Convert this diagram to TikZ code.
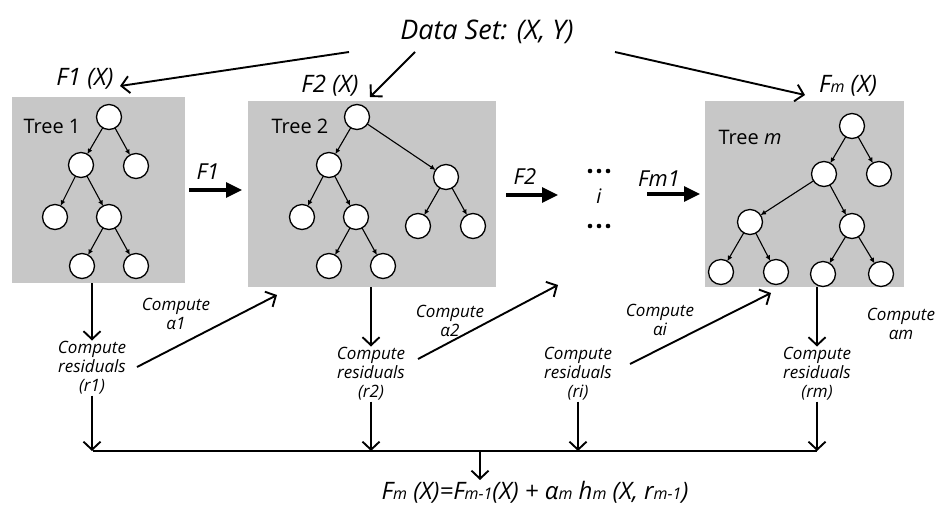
\documentclass[tikz,border=0pt]{standalone}
\usepackage{fontspec}
\setmainfont{Open Sans}
\usetikzlibrary{arrows.meta}
\definecolor{boxgray}{RGB}{199,199,199}
% reduced-size index letters that sit on the baseline
\newcommand\idx[1]{{\fontsize{16}{16}\selectfont #1}}

\begin{document}
\begin{tikzpicture}[x=1pt,y=-1pt,
  every node/.style={inner sep=1pt, outer sep=0pt},
  treebox/.style={fill=boxgray, inner sep=0pt, outer sep=0pt, anchor=north west},
  tn/.style={circle, draw=black, fill=white, minimum size=25pt, inner sep=0pt, line width=1.3pt},
  te/.style={-{Latex[length=5.5pt,width=5pt]}, line width=1.1pt},
  flow/.style={-{Straight Barb[length=8pt,width=17pt]}, line width=1.9pt},
  bigarrow/.style={-{Triangle[length=16pt,width=15pt]}, line width=3.2pt},
  flabel/.style={font=\fontsize{24}{26}\selectfont\itshape},
  dstitle/.style={font=\fontsize{27}{30}\selectfont\itshape},
  treelbl/.style={font=\fontsize{20}{22}\selectfont},
  cmptext/.style={font=\fontsize{17}{19}\selectfont\itshape, align=center},
]
\useasboundingbox (0,0) rectangle (936,507);

% ---------- tree panels ----------
\node[treebox, minimum width=173pt, minimum height=186pt] (box1) at (12,97) {};
\node[treebox, minimum width=248pt, minimum height=186pt] (box2) at (248,101) {};
\node[treebox, minimum width=199pt, minimum height=186pt] (boxm) at (705,101) {};

\node[treelbl] (lbl1) at (52,126) {Tree 1};
\node[treelbl] (lbl2) at (300,126) {Tree 2};
\node[treelbl] (lblm) at (750,137) {Tree \textit{m}};

% Tree 1
\node[tn] (a0) at (109,117) {};
\node[tn] (a1) at (81,165) {};
\node[tn] (a2) at (136,166) {};
\node[tn] (a3) at (55,217) {};
\node[tn] (a4) at (109,217) {};
\node[tn] (a5) at (82,266) {};
\node[tn] (a6) at (136,266) {};
\draw[te] (a0) -- (a1);
\draw[te] (a0) -- (a2);
\draw[te] (a1) -- (a3);
\draw[te] (a1) -- (a4);
\draw[te] (a4) -- (a5);
\draw[te] (a4) -- (a6);

% Tree 2
\node[tn] (b0) at (357,117) {};
\node[tn] (b1) at (329,165) {};
\node[tn] (b2) at (446,177) {};
\node[tn] (b3) at (302,217) {};
\node[tn] (b4) at (356,217) {};
\node[tn] (b5) at (329,266) {};
\node[tn] (b6) at (383,266) {};
\node[tn] (b7) at (418,226) {};
\node[tn] (b8) at (473,226) {};
\draw[te] (b0) -- (b1);
\draw[te] (b0) -- (b2);
\draw[te] (b1) -- (b3);
\draw[te] (b1) -- (b4);
\draw[te] (b4) -- (b5);
\draw[te] (b4) -- (b6);
\draw[te] (b2) -- (b7);
\draw[te] (b2) -- (b8);

% Tree m
\node[tn] (c0) at (852,126) {};
\node[tn] (c1) at (824,174) {};
\node[tn] (c2) at (879,174) {};
\node[tn] (c3) at (750,222) {};
\node[tn] (c4) at (852,226) {};
\node[tn] (c5) at (721,272) {};
\node[tn] (c6) at (776,272) {};
\node[tn] (c7) at (823,274) {};
\node[tn] (c8) at (881,274) {};
\draw[te] (c0) -- (c1);
\draw[te] (c0) -- (c2);
\draw[te] (c1) -- (c3);
\draw[te] (c1) -- (c4);
\draw[te] (c3) -- (c5);
\draw[te] (c3) -- (c6);
\draw[te] (c4) -- (c7);
\draw[te] (c4) -- (c8);

% ---------- data set and model outputs ----------
\node[dstitle] (ds) at (487,32) {Data Set: (X, Y)};
\node[flabel] (f1x) at (85,79) {F1 (X)};
\node[flabel] (f2x) at (330,86) {F2 (X)};
\node[flabel] (fmx) at (848,86) {F\idx{m} (X)};

\coordinate (ds1) at (349,52);
\coordinate (ds2) at (415,52);
\coordinate (ds3) at (615,52);
\coordinate (in1) at (120,86);
\coordinate (in2) at (370,97);
\coordinate (in3) at (805,95);
\draw[flow] (ds1) -- (in1);
\draw[flow] (ds2) -- (in2);
\draw[flow] (ds3) -- (in3);

% ---------- passing the ensemble forward ----------
\coordinate (p1s) at (189,190);
\coordinate (p1e) at (242,190);
\coordinate (p2s) at (506,195);
\coordinate (p2e) at (558,195);
\coordinate (p3s) at (647,194);
\coordinate (p3e) at (700,194);
\draw[bigarrow] (p1s) -- (p1e);
\draw[bigarrow] (p2s) -- (p2e);
\draw[bigarrow] (p3s) -- (p3e);
\node[flabel, font=\fontsize{22}{24}\selectfont\itshape] (pf1) at (208,172) {F1};
\node[flabel, font=\fontsize{22}{24}\selectfont\itshape] (pf2) at (525,177) {F2};
\node[flabel, font=\fontsize{22}{24}\selectfont\itshape] (pf3) at (659,179) {Fm1};

% ellipsis between tree 2 and tree m
\foreach \dx in {-9,0,9} {
  \fill (599+\dx,171) circle (2.3pt);
  \fill (599+\dx,226) circle (2.3pt);
}
\node[flabel, font=\fontsize{20}{22}\selectfont\itshape] (ii) at (599,196) {i};

% ---------- residuals and step sizes ----------
\node[cmptext] (r1) at (92,368) {Compute\\residuals\\(r1)};
\node[cmptext] (r2) at (371,374) {Compute\\residuals\\(r2)};
\node[cmptext] (ri) at (578,374) {Compute\\residuals\\(ri)};
\node[cmptext] (rm) at (817,374) {Compute\\residuals\\(rm)};

\node[cmptext] (al1) at (176,314) {Compute\\α1};
\node[cmptext] (al2) at (450,321) {Compute\\α2};
\node[cmptext] (ali) at (660,320) {Compute\\αi};
\node[cmptext] (alm) at (901,324) {Compute\\αm};

\draw[flow] (box1.south -| r1) -- (r1.north);
\draw[flow] (box2.south -| r2) -- (r2.north);
\draw[flow] (boxm.south -| rm) -- (rm.north);

\coordinate (s1) at (137,367);
\coordinate (e1) at (277,295);
\coordinate (s2) at (418,359);
\coordinate (e2) at (558,285);
\coordinate (s3) at (630,364);
\coordinate (e3) at (771,293);
\draw[flow] (s1) -- (e1);
\draw[flow] (s2) -- (e2);
\draw[flow] (s3) -- (e3);

% ---------- collecting bus and final model ----------
\coordinate (busL) at (93,451);
\coordinate (busR) at (817,451);
\coordinate (busM) at (480,451);
\draw[line width=1.9pt] (busL) -- (busR);
\draw[flow] (r1.south) -- (r1.south |- busL);
\draw[flow] (r2.south) -- (r2.south |- busL);
\draw[flow] (ri.south) -- (ri.south |- busL);
\draw[flow] (rm.south) -- (rm.south |- busL);

\node[flabel] (fm) at (535,492)
  {F\idx{m} (X)=F\idx{m-1}(X) + α\idx{m} h\idx{m} (X, r\idx{m-1})};
\draw[flow] (busM) -- (busM |- fm.north);
\end{tikzpicture}
\end{document}
